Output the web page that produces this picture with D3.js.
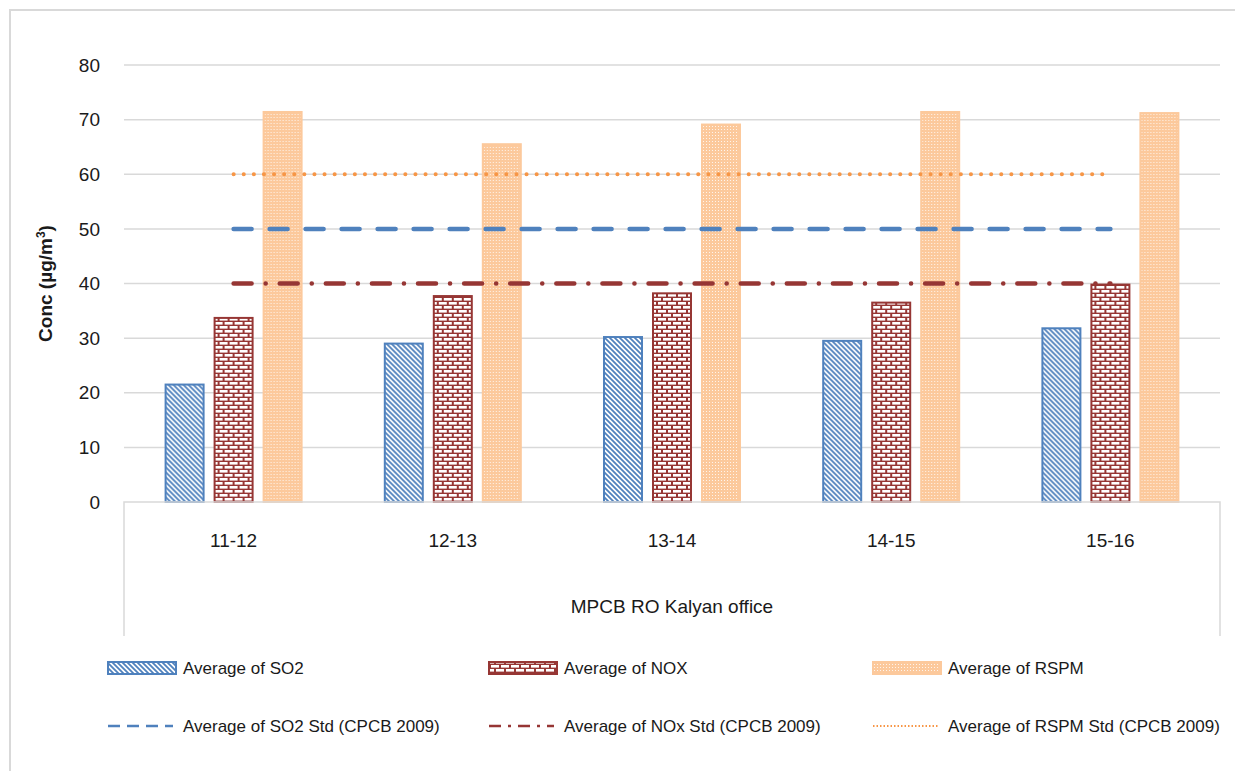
<!DOCTYPE html>
<html>
<head>
<meta charset="utf-8">
<script src="https://cdn.jsdelivr.net/npm/d3@7"></script>
<style>
  body { margin: 0; background: #fff; }
  text { font-family: "Liberation Sans Narrow", "Arial Narrow", "Liberation Sans", Arial, sans-serif; fill: #1a1a1a; }
</style>
</head>
<body>
<svg id="chart" width="1235" height="771"></svg>
<script>
const anos = ["11-12", "12-13", "13-14", "14-15", "15-16"];
const so2 = [21.5, 29.0, 30.2, 29.5, 31.8];
const nox = [33.7, 37.7, 38.2, 36.5, 39.8];
const rspm = [71.4, 65.5, 69.1, 71.4, 71.2];
const so2Std = [50, 50, 50, 50, 50];
const noxStd = [40, 40, 40, 40, 40];
const rspmStd = [60, 60, 60, 60, 60];
const yTicks = [0, 10, 20, 30, 40, 50, 60, 70, 80];
const barSeries = ["so2", "nox", "rspm"];
const barLegend = ["Average of SO2", "Average of NOX", "Average of RSPM"];
const lineLegend = ["Average of SO2 Std (CPCB 2009)", "Average of NOx Std (CPCB 2009)", "Average of RSPM Std (CPCB 2009)"];

const azul = "#4f81bd", vermelho = "#963634", laranja = "#f79646", laranjaClaro = "#fcc99c";

const svg = d3.select("#chart");
const margin = {top: 65, left: 124, right: 15, bottom: 269};
const larguraVis = 1235 - margin.left - margin.right,
      alturaVis = 771 - margin.top - margin.bottom;

// padroes das barras
const defs = svg.append("defs");
let p1 = defs.append("pattern").attr("id", "pSO2").attr("patternUnits", "userSpaceOnUse")
    .attr("width", 5).attr("height", 5);
p1.append("rect").attr("width", 5).attr("height", 5).attr("fill", "#fff");
p1.append("path").attr("d", "M0,0 L5,5 M-1,4 L1,6 M4,-1 L6,1")
    .attr("stroke", azul).attr("stroke-width", 1.8);

let p2 = defs.append("pattern").attr("id", "pNOX").attr("patternUnits", "userSpaceOnUse")
    .attr("width", 10).attr("height", 8);
p2.append("rect").attr("width", 10).attr("height", 8).attr("fill", vermelho);
[[1, 1], [-4, 5], [6, 5]].forEach(([x, y]) => {
    p2.append("rect").attr("x", x).attr("y", y).attr("width", 8).attr("height", 2.6).attr("fill", "#fff");
});

let p3 = defs.append("pattern").attr("id", "pRSPM").attr("patternUnits", "userSpaceOnUse")
    .attr("width", 3).attr("height", 3);
p3.append("rect").attr("width", 3).attr("height", 3).attr("fill", laranjaClaro);
p3.append("rect").attr("x", 1).attr("y", 1).attr("width", 1).attr("height", 1).attr("fill", "#fff").attr("opacity", 0.8);

const fills = {so2: "url(#pSO2)", nox: "url(#pNOX)", rspm: "url(#pRSPM)"};
const bordas = {so2: azul, nox: vermelho, rspm: laranjaClaro};

// borda externa
svg.append("rect").attr("x", 10).attr("y", 10).attr("width", 1240).attr("height", 770)
    .attr("fill", "none").attr("stroke", "#d9d9d9").attr("stroke-width", 2);

let grafico = svg.append("g").attr("transform", "translate(" + margin.left + "," + margin.top + ")");

let x0 = d3.scaleBand().domain(anos).range([0, larguraVis]);
let x1 = d3.scaleBand().domain(barSeries).range([-69, 69]).paddingInner(9 / 49);
let y = d3.scaleLinear().domain([0, 80]).range([alturaVis, 0]);

// grade
grafico.selectAll(".grade").data(yTicks.filter(d => d > 0)).enter().append("line")
    .attr("x1", 0).attr("x2", larguraVis)
    .attr("y1", d => y(d)).attr("y2", d => y(d))
    .attr("stroke", "#d9d9d9").attr("stroke-width", 1.5);

// rotulos do eixo y
grafico.selectAll(".ytick").data(yTicks).enter().append("text")
    .attr("x", -24).attr("y", d => y(d)).attr("dy", "0.35em")
    .attr("text-anchor", "end").attr("font-size", 19)
    .text(d => d);

grafico.append("text")
    .attr("transform", "translate(-72," + y(40) + ") rotate(-90)")
    .attr("text-anchor", "middle").attr("font-size", 19).attr("font-weight", "bold")
    .html('Conc (µg/m<tspan dy="-7" font-size="12">3</tspan><tspan dy="7">)</tspan>');

// barras
const dados = anos.map((a, i) => ({ano: a, so2: so2[i], nox: nox[i], rspm: rspm[i]}));
let grupos = grafico.selectAll(".grupo").data(dados).enter().append("g")
    .attr("transform", d => "translate(" + (x0(d.ano) + x0.bandwidth() / 2) + ",0)");
grupos.selectAll("rect").data(d => barSeries.map(k => ({k: k, v: d[k]}))).enter().append("rect")
    .attr("x", d => x1(d.k) + 1).attr("width", x1.bandwidth() - 2)
    .attr("y", d => y(d.v)).attr("height", d => alturaVis - y(d.v))
    .attr("fill", d => fills[d.k]).attr("stroke", d => bordas[d.k]).attr("stroke-width", 2);

// caixa do eixo x
grafico.append("path")
    .attr("d", "M0," + (alturaVis + 134) + " V" + alturaVis + " H" + larguraVis + " V" + (alturaVis + 134))
    .attr("fill", "none").attr("stroke", "#d9d9d9").attr("stroke-width", 1.5);

grafico.selectAll(".xtick").data(anos).enter().append("text")
    .attr("x", d => x0(d) + x0.bandwidth() / 2).attr("y", alturaVis + 45)
    .attr("text-anchor", "middle").attr("font-size", 19)
    .text(d => d);

grafico.append("text").attr("x", larguraVis / 2).attr("y", alturaVis + 111)
    .attr("text-anchor", "middle").attr("font-size", 19)
    .text("MPCB RO Kalyan office");

// linhas dos padroes
const linha = d3.line().x((d, i) => x0(anos[i]) + x0.bandwidth() / 2).y(d => y(d));
const estilos = [
    {dados: rspmStd, cor: laranja, dash: "0.1 10", w: 4},
    {dados: so2Std, cor: azul, dash: "18 18", w: 4.5},
    {dados: noxStd, cor: vermelho, dash: "18 14 0.1 14", w: 4.5}
];
estilos.forEach(s => {
    grafico.append("path").datum(s.dados).attr("d", linha)
        .attr("fill", "none").attr("stroke", s.cor).attr("stroke-width", s.w)
        .attr("stroke-linecap", "round").attr("stroke-dasharray", s.dash);
});

// legenda
const colX = [107, 488, 872];
const legBarras = svg.append("g");
barSeries.forEach((k, i) => {
    legBarras.append("rect").attr("x", colX[i] + 1).attr("y", 662).attr("width", 68).attr("height", 12)
        .attr("fill", fills[k]).attr("stroke", bordas[k]).attr("stroke-width", 2);
    legBarras.append("text").attr("x", colX[i] + 76).attr("y", 668).attr("dy", "0.35em")
        .attr("font-size", 17).text(barLegend[i]);
});
const legEstilos = [estilos[1], estilos[2], estilos[0]];
legEstilos.forEach((s, i) => {
    legBarras.append("line").attr("x1", colX[i] + 1).attr("x2", colX[i] + 66)
        .attr("y1", 726).attr("y2", 726)
        .attr("stroke", s.cor).attr("stroke-width", i == 2 ? 2 : 2.5)
        .attr("stroke-dasharray", i == 0 ? "12 7" : i == 1 ? "12 7 3 7" : "1.5 2");
    legBarras.append("text").attr("x", colX[i] + 76).attr("y", 726).attr("dy", "0.35em")
        .attr("font-size", 17).text(lineLegend[i]);
});
</script>
</body>
</html>
